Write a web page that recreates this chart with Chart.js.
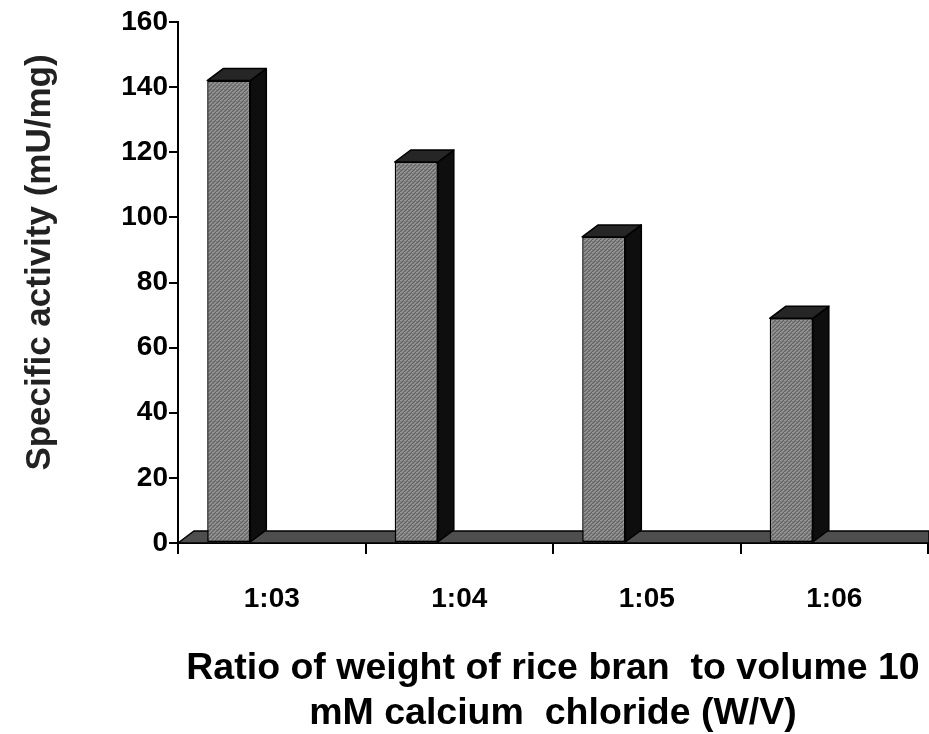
<!DOCTYPE html>
<html>
<head>
<meta charset="utf-8">
<script src="https://cdn.jsdelivr.net/npm/chart.js@4.4.1/dist/chart.umd.min.js"></script>
<style>
  html, body { margin: 0; padding: 0; background: #fff; }
  #wrap { width: 929px; height: 734px; }
</style>
</head>
<body>
<div id="wrap"><canvas id="chart"></canvas></div>
<script>
// data
const categories = ['1:03', '1:04', '1:05', '1:06'];
const activity = [142, 117, 94, 69];
const yMin = 0;
const yMax = 160;
const yStep = 20;
const yTitle = 'Specific activity (mU/mg)';
const xTitle = ['Ratio of weight of rice bran  to volume 10', 'mM calcium  chloride (W/V)'];

// 3d look
const depthX = 16;
const depthY = 12;
const barShift = -43;
const yTitleLift = -20;

// stippled gray for the front faces
function makeStipple() {
    const c = document.createElement('canvas');
    c.width = 4; c.height = 4;
    const g = c.getContext('2d');
    g.fillStyle = '#7e7e7e';
    g.fillRect(0, 0, 4, 4);
    g.fillStyle = '#989898';
    g.fillRect(0, 0, 1, 1); g.fillRect(2, 2, 1, 1); g.fillRect(3, 0, 1, 1); g.fillRect(1, 3, 1, 1);
    g.fillStyle = '#646464';
    g.fillRect(2, 0, 1, 1); g.fillRect(0, 2, 1, 1); g.fillRect(1, 1, 1, 1); g.fillRect(3, 3, 1, 1);
    return c;
}
const ctx0 = document.getElementById('chart').getContext('2d');
const stipple = ctx0.createPattern(makeStipple(), 'repeat');

const bar3d = {
    id: 'bar3d',
    beforeDraw(chart) {
        // the y title sits a bit above the middle of the axis in the original
        const s = chart.scales.y;
        if (!s._lifted) {
            const orig = s.drawTitle.bind(s);
            s.drawTitle = function () {
                chart.ctx.save();
                chart.ctx.translate(0, yTitleLift);
                orig();
                chart.ctx.restore();
            };
            s._lifted = true;
        }
    },
    beforeDatasetsDraw(chart) {
        const ctx = chart.ctx;
        const area = chart.chartArea;
        const y0 = chart.scales.y.getPixelForValue(0);
        // floor
        ctx.save();
        ctx.beginPath();
        ctx.moveTo(area.left, y0);
        ctx.lineTo(area.left + depthX, y0 - depthY);
        ctx.lineTo(chart.width, y0 - depthY);
        ctx.lineTo(chart.width, y0);
        ctx.closePath();
        ctx.fillStyle = '#4e4e4e';
        ctx.fill();
        ctx.lineWidth = 1.5;
        ctx.strokeStyle = '#000';
        ctx.stroke();
        ctx.restore();
    },
    beforeDatasetDraw(chart) {
        chart.ctx.save();
        chart.ctx.translate(barShift, 0);
    },
    afterDatasetDraw(chart, args) {
        const ctx = chart.ctx;
        ctx.restore();
        args.meta.data.forEach(bar => {
            const left = bar.x - bar.width / 2 + barShift;
            const right = left + bar.width;
            const top = bar.y;
            const base = bar.base;
            ctx.save();
            ctx.lineWidth = 1.5;
            ctx.strokeStyle = '#000';
            ctx.lineJoin = 'round';
            // side face
            ctx.beginPath();
            ctx.moveTo(right, top);
            ctx.lineTo(right + depthX, top - depthY);
            ctx.lineTo(right + depthX, base - depthY);
            ctx.lineTo(right, base);
            ctx.closePath();
            ctx.fillStyle = '#0e0e0e';
            ctx.fill();
            ctx.stroke();
            // top face
            ctx.beginPath();
            ctx.moveTo(left, top);
            ctx.lineTo(left + depthX, top - depthY);
            ctx.lineTo(right + depthX, top - depthY);
            ctx.lineTo(right, top);
            ctx.closePath();
            ctx.fillStyle = '#262626';
            ctx.fill();
            ctx.stroke();
            ctx.restore();
        });
    }
};

const fontFamily = 'Liberation Sans, Arial, sans-serif';

new Chart(ctx0, {
    type: 'bar',
    data: {
        labels: categories,
        datasets: [{
            data: activity,
            backgroundColor: stipple,
            borderColor: '#000',
            borderWidth: 1.5,
            borderSkipped: false,
            categoryPercentage: 1,
            barPercentage: 0.23
        }]
    },
    options: {
        responsive: true,
        maintainAspectRatio: false,
        animation: false,
        layout: { padding: { top: 22, right: 1, left: 0, bottom: 0 } },
        plugins: {
            legend: { display: false },
            tooltip: { enabled: false }
        },
        scales: {
            x: {
                offset: true,
                grid: {
                    offset: true,
                    drawOnChartArea: false,
                    drawTicks: true,
                    tickLength: 11,
                    color: '#000',
                    lineWidth: 2
                },
                border: { color: '#000', width: 2 },
                ticks: {
                    color: '#000',
                    padding: 28,
                    font: { family: fontFamily, size: 28, weight: 'bold' }
                },
                title: {
                    display: true,
                    text: xTitle,
                    color: '#000',
                    padding: { top: 36, bottom: -2 },
                    font: { family: fontFamily, size: 37.5, weight: 'bold', lineHeight: 1.19 }
                },
                afterFit(scale) { scale.height = 191; }
            },
            y: {
                min: yMin,
                max: yMax,
                grid: {
                    drawOnChartArea: false,
                    drawTicks: true,
                    tickLength: 9,
                    color: '#000',
                    lineWidth: 2
                },
                border: { color: '#000', width: 2 },
                ticks: {
                    stepSize: yStep,
                    color: '#000',
                    padding: 1,
                    font: { family: fontFamily, size: 28, weight: 'bold' }
                },
                title: {
                    display: true,
                    text: yTitle,
                    color: '#222',
                    padding: { top: 19, bottom: 0 },
                    font: { family: fontFamily, size: 35, weight: 'bold', lineHeight: 1.2 }
                },
                afterFit(scale) { scale.width = 178; }
            }
        }
    },
    plugins: [bar3d]
});
</script>
</body>
</html>
